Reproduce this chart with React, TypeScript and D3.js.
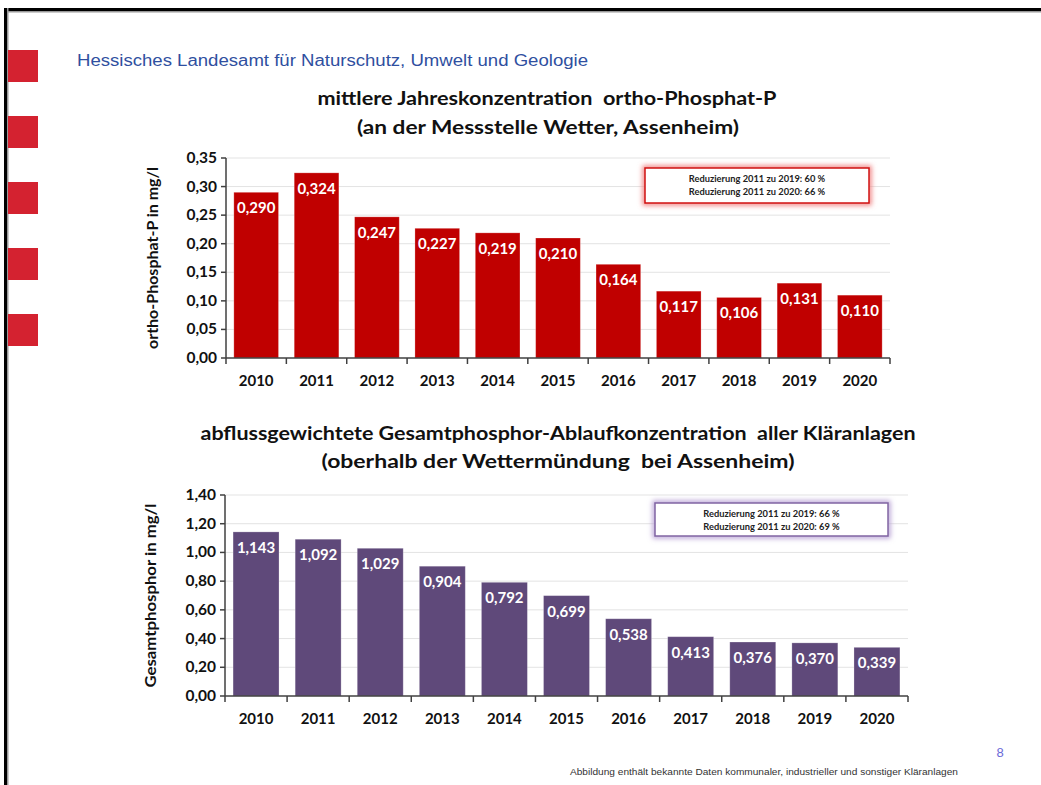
import React from "react";
import * as d3 from "d3";

const years = ["2010","2011","2012","2013","2014","2015","2016","2017","2018","2019","2020"];
const orthoP = [0.290,0.324,0.247,0.227,0.219,0.210,0.164,0.117,0.106,0.131,0.110];
const gesamtP = [1.143,1.092,1.029,0.904,0.792,0.699,0.538,0.413,0.376,0.370,0.339];
const ticks1 = [0,0.05,0.10,0.15,0.20,0.25,0.30,0.35];
const ticks2 = [0,0.2,0.4,0.6,0.8,1.0,1.2,1.4];
const legend1 = ["Reduzierung 2011 zu 2019: 60 %","Reduzierung 2011 zu 2020: 66 %"];
const legend2 = ["Reduzierung 2011 zu 2019: 66 %","Reduzierung 2011 zu 2020: 69 %"];

const FONT = "Lato, 'Open Sans', sans-serif";
const comma = (f: string) => (v: number) => d3.format(f)(v).replace(".", ",");

type ChartProps = {
  values: number[]; ticks: number[]; x0: number; x1: number; yTop: number; yBottom: number;
  max: number; color: string; tickFmt: string; yTitle: string; yTitleX: number; yTitleLen: number;
};

function BarChart(p: ChartProps) {
  const x = d3.scaleBand<string>().domain(years).range([p.x0, p.x1]).paddingInner(0.26).paddingOuter(0.13);
  const y = d3.scaleLinear().domain([0, p.max]).range([p.yBottom, p.yTop]);
  const step = x.step();
  const tf = comma(p.tickFmt);
  const vf = comma(".3f");
  const yMid = (p.yTop + p.yBottom) / 2;
  return (
    <g>
      {p.ticks.map((t) => (
        <g key={t}>
          {t > 0 && <line x1={p.x0} x2={p.x1} y1={y(t)} y2={y(t)} stroke="#e3e3e3" strokeWidth={1} />}
          <line x1={p.x0 - 5} x2={p.x0} y1={y(t)} y2={y(t)} stroke="#404040" strokeWidth={1.5} />
          <text x={p.x0 - 9} y={y(t) + 5} textAnchor="end" fontFamily={FONT} fontWeight="bold" fontSize={15.5} fill="#111">{tf(t)}</text>
        </g>
      ))}
      {years.map((yr, i) => {
        const v = p.values[i];
        const bx = x(yr)!;
        return (
          <g key={yr}>
            <rect x={bx} y={y(v)} width={x.bandwidth()} height={p.yBottom - y(v)} fill={p.color} stroke="#ffffff" strokeOpacity={0.3} strokeWidth={0.8} />
            <text x={bx + x.bandwidth() / 2} y={y(v) + 21} textAnchor="middle" fontFamily={FONT} fontWeight="bold" fontSize={15} fill="#ffffff">{vf(v)}</text>
            <text x={bx + x.bandwidth() / 2} y={p.yBottom + 28} textAnchor="middle" fontFamily={FONT} fontWeight="bold" fontSize={15} fill="#111">{yr}</text>
          </g>
        );
      })}
      {d3.range(years.length + 1).map((i) => (
        <line key={i} x1={p.x0 + i * step} x2={p.x0 + i * step} y1={p.yBottom} y2={p.yBottom + 6} stroke="#404040" strokeWidth={1.5} />
      ))}
      <line x1={p.x0} x2={p.x0} y1={p.yTop} y2={p.yBottom} stroke="#404040" strokeWidth={1.5} />
      <line x1={p.x0} x2={p.x1} y1={p.yBottom} y2={p.yBottom} stroke="#404040" strokeWidth={1.5} />
      <text transform={`translate(${p.yTitleX},${yMid}) rotate(-90)`} textAnchor="middle" fontFamily={FONT} fontWeight="bold" fontSize={15} fill="#111" textLength={p.yTitleLen} lengthAdjust="spacingAndGlyphs">{p.yTitle}</text>
    </g>
  );
}

function Legend({ x, y, w, h, lines, color, glow, filterId }: { x: number; y: number; w: number; h: number; lines: string[]; color: string; glow: string; filterId: string }) {
  return (
    <g>
      <rect x={x} y={y} width={w} height={h} fill="none" stroke={glow} strokeWidth={5} filter={`url(#${filterId})`} />
      <rect x={x} y={y} width={w} height={h} fill="#ffffff" stroke={color} strokeWidth={1.5} />
      {lines.map((l, i) => (
        <text key={i} x={x + w / 2} y={y + 14 + i * 13} textAnchor="middle" fontFamily={FONT} fontWeight="bold" fontSize={9.3} fill="#222">{l}</text>
      ))}
    </g>
  );
}

export default function App() {
  const squares = [50, 116, 182, 248, 314];
  const pre = { whiteSpace: "pre" as const };
  return (
    <svg width={1041} height={785} style={{ position: "absolute", left: 0, top: 0, background: "#fff" }}>
      <defs>
        <filter id="glow" x="-20%" y="-50%" width="140%" height="200%">
          <feGaussianBlur stdDeviation={2.5} />
        </filter>
      </defs>
      <rect x={0} y={0} width={1041} height={785} fill="#ffffff" />
      <rect x={4} y={8} width={1037} height={3} fill="#000" />
      <rect x={4} y={11} width={1037} height={1.5} fill="#999" />
      <rect x={4} y={8} width={3} height={777} fill="#000" />
      <rect x={7} y={8} width={1.5} height={777} fill="#999" />
      {squares.map((s) => (
        <rect key={s} x={8} y={s} width={30} height={32} fill="#d42230" />
      ))}
      <text x={77} y={66} fontFamily="'Liberation Sans', Arial, sans-serif" fontSize={16} fill="#2f4fa0" textLength={511} lengthAdjust="spacingAndGlyphs">Hessisches Landesamt für Naturschutz, Umwelt und Geologie</text>

      <text x={547} y={105} style={pre} textAnchor="middle" fontFamily={FONT} fontWeight="bold" fontSize={19} fill="#111" textLength={459} lengthAdjust="spacingAndGlyphs">mittlere Jahreskonzentration  ortho-Phosphat-P</text>
      <text x={548} y={134} style={pre} textAnchor="middle" fontFamily={FONT} fontWeight="bold" fontSize={19} fill="#111" textLength={382} lengthAdjust="spacingAndGlyphs">(an der Messstelle Wetter, Assenheim)</text>

      <BarChart values={orthoP} ticks={ticks1} x0={226} x1={890} yTop={158} yBottom={358} max={0.35} color="#c00000" tickFmt=".2f" yTitle="ortho-Phosphat-P in mg/l" yTitleX={158} yTitleLen={182} />
      <Legend x={645} y={168} w={224} h={35} lines={legend1} color="#d01010" glow="#f08080" filterId="glow" />

      <text x={558} y={440} style={pre} textAnchor="middle" fontFamily={FONT} fontWeight="bold" fontSize={19} fill="#111" textLength={715} lengthAdjust="spacingAndGlyphs">abflussgewichtete Gesamtphosphor-Ablaufkonzentration  aller Kläranlagen</text>
      <text x={558} y={468} style={pre} textAnchor="middle" fontFamily={FONT} fontWeight="bold" fontSize={19} fill="#111" textLength={473} lengthAdjust="spacingAndGlyphs">(oberhalb der Wettermündung  bei Assenheim)</text>

      <BarChart values={gesamtP} ticks={ticks2} x0={225} x1={908} yTop={495} yBottom={696} max={1.4} color="#5f497a" tickFmt=".2f" yTitle="Gesamtphosphor in mg/l" yTitleX={156} yTitleLen={184} />
      <Legend x={655} y={503} w={233} h={33} lines={legend2} color="#8064a2" glow="#b9a3d6" filterId="glow" />

      <text x={1000} y={757} textAnchor="middle" fontFamily="'Liberation Sans', Arial, sans-serif" fontSize={13} fill="#6a6ad8">8</text>
      <text x={570} y={775} fontFamily="'Liberation Sans', Arial, sans-serif" fontSize={9} fill="#333" textLength={388} lengthAdjust="spacingAndGlyphs">Abbildung enthält bekannte Daten kommunaler, industrieller und sonstiger Kläranlagen</text>
    </svg>
  );
}
